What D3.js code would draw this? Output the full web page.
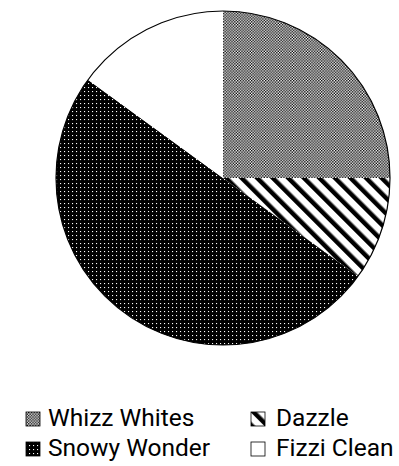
<!DOCTYPE html>
<html>
<head>
<meta charset="utf-8">
<script src="https://cdn.jsdelivr.net/npm/d3@7"></script>
<style>
  html, body { margin: 0; padding: 0; background: #fff; }
  svg { display: block; }
</style>
</head>
<body>
<svg id="chart" width="399" height="466"></svg>
<script>
// Market share by brand (percent), clockwise from 12 o'clock
const brands = ["Whizz Whites", "Dazzle", "Snowy Wonder", "Fizzi Clean"];
const shares = [25, 10, 50, 15];
const fills = ["url(#pat-whizz)", "url(#pat-dazzle)", "url(#pat-snowy)", "#ffffff"];

const svg = d3.select("#chart");
const defs = svg.append("defs");

// fine 50% checker
const pw = defs.append("pattern").attr("id", "pat-whizz")
  .attr("patternUnits", "userSpaceOnUse").attr("width", 2.8).attr("height", 2.8);
pw.append("rect").attr("width", 2.8).attr("height", 2.8).attr("fill", "#fff");
pw.append("rect").attr("width", 1.4).attr("height", 1.4).attr("fill", "#000");
pw.append("rect").attr("x", 1.4).attr("y", 1.4).attr("width", 1.4).attr("height", 1.4).attr("fill", "#000");

// wide downward diagonal stripes
const pd = defs.append("pattern").attr("id", "pat-dazzle")
  .attr("patternUnits", "userSpaceOnUse").attr("width", 11).attr("height", 11)
  .attr("patternTransform", "rotate(-45)");
pd.append("rect").attr("width", 11).attr("height", 11).attr("fill", "#fff");
pd.append("rect").attr("width", 4.5).attr("height", 11).attr("fill", "#000");

// black with sparse fine white dots
const ps = defs.append("pattern").attr("id", "pat-snowy")
  .attr("patternUnits", "userSpaceOnUse").attr("width", 4).attr("height", 4);
ps.append("rect").attr("width", 4).attr("height", 4).attr("fill", "#000");
ps.append("rect").attr("x", 1).attr("y", 1).attr("width", 1.1).attr("height", 1.1).attr("fill", "#fff");

const cx = 223, cy = 178, radius = 167;

const pie = d3.pie().sort(null).value(d => d)(shares);
const arc = d3.arc().innerRadius(0).outerRadius(radius);

const g = svg.append("g").attr("transform", `translate(${cx},${cy})`);
g.selectAll("path.slice").data(pie).join("path")
  .attr("class", "slice")
  .attr("d", arc)
  .attr("fill", (d, i) => fills[i])
  .attr("stroke", "none");

// outer rim
g.append("circle").attr("r", radius)
  .attr("fill", "none").attr("stroke", "#000").attr("stroke-width", 1.2);

// legend: two columns, two rows
const legend = svg.append("g").attr("font-family", "Roboto, sans-serif")
  .attr("font-size", 24.5).attr("fill", "#000");
const swatchX = [26, 251], textX = [48, 276], rowY = [426, 456];
brands.forEach((name, i) => {
  const col = i % 2, row = Math.floor(i / 2);
  const it = legend.append("g").attr("transform", `translate(0,${rowY[row]})`);
  it.append("rect").attr("x", swatchX[col]).attr("y", -14).attr("width", 14).attr("height", 14)
    .attr("fill", fills[i]).attr("stroke", "#000").attr("stroke-width", 0.8);
  it.append("text").attr("x", textX[col]).attr("y", 0).text(name);
});
</script>
</body>
</html>
